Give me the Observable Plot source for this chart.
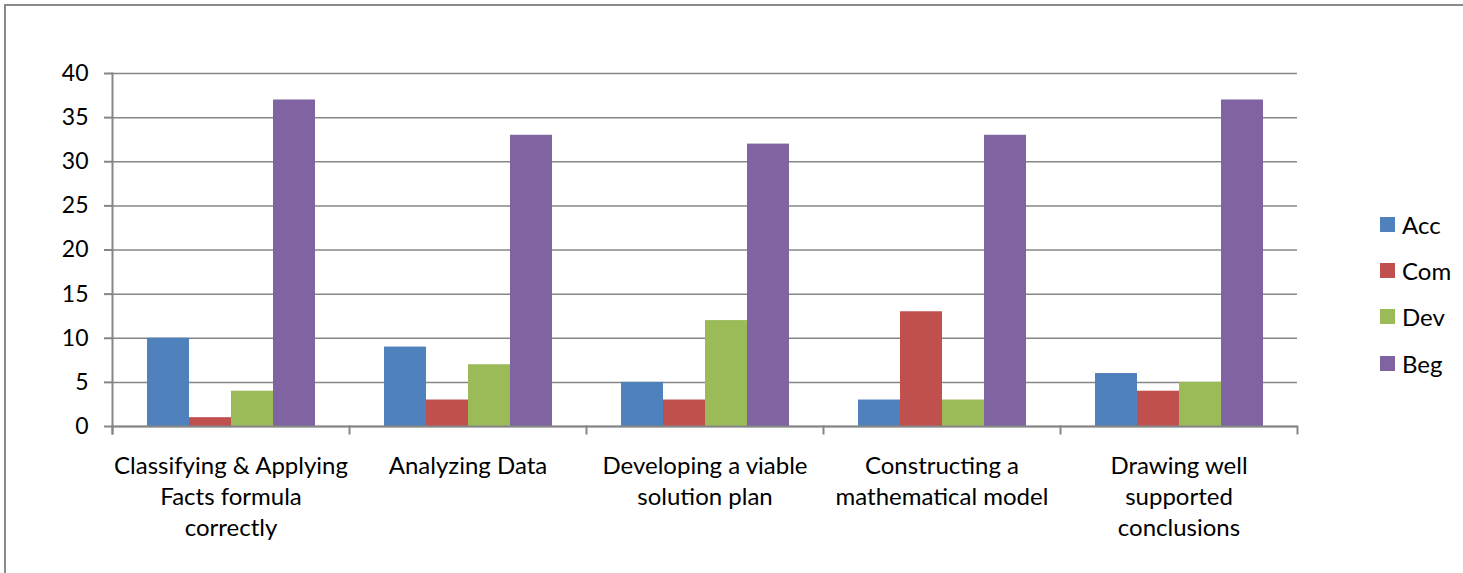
<!DOCTYPE html>
<html>
<head>
<meta charset="utf-8">
<script src="https://cdn.jsdelivr.net/npm/d3@7"></script>
<script src="https://cdn.jsdelivr.net/npm/@observablehq/plot@0.6"></script>
<style>
  html, body { margin: 0; padding: 0; background: #fff; }
  #wrap { position: relative; width: 1463px; height: 573px; overflow: hidden; font-family: Lato, sans-serif; }
  #border { position: absolute; left: 4px; top: 4px; width: 1500px; height: 600px; border-top: 2px solid #8a8a8a; border-left: 2px solid #8a8a8a; }
  #legend { position: absolute; left: 1380px; top: 201px; }
  .item { display: flex; align-items: center; height: 46.3px; font-size: 24px; color: #000; }
  .sw { width: 15px; height: 15px; margin-right: 7px; }
</style>
</head>
<body>
<div id="wrap"><div id="border"></div></div>
<script>
const categories = [
  "Classifying & Applying Facts formula correctly",
  "Analyzing Data",
  "Developing a viable solution plan",
  "Constructing a mathematical model",
  "Drawing well supported conclusions"
];
const tickLabels = [
  "Classifying & Applying\nFacts formula\ncorrectly",
  "Analyzing Data",
  "Developing a viable\nsolution plan",
  "Constructing a\nmathematical model",
  "Drawing well\nsupported\nconclusions"
];
const series = ["Acc", "Com", "Dev", "Beg"];
const acc = [10, 9, 5, 3, 6];
const com = [1, 3, 3, 13, 4];
const dev = [4, 7, 12, 3, 5];
const beg = [37, 33, 32, 33, 37];
const yTicks = [0, 5, 10, 15, 20, 25, 30, 35, 40];
const colors = ["#4F81BD", "#C0504D", "#9BBB59", "#8064A2"];

const seriesValues = [acc, com, dev, beg];
const data = [];
categories.forEach((c, i) => series.forEach((s, j) => data.push({category: c, series: s, value: seriesValues[j][i]})));

const W = 1463, H = 573, mT = 73, mB = 147, mL = 111, mR = 165;
const innerH = H - mT - mB;
const gray = "#868686";

const chart = Plot.plot({
  width: W, height: H,
  marginTop: mT, marginBottom: mB, marginLeft: mL, marginRight: mR,
  style: {fontFamily: "Lato, sans-serif", fontSize: "23px", color: "#000", background: "transparent"},
  fx: {domain: categories, paddingInner: 0, paddingOuter: 0, label: null},
  x: {domain: series, paddingInner: 0, paddingOuter: 0.76, axis: null},
  y: {domain: [0, 40], label: null},
  color: {domain: series, range: colors},
  marks: [
    Plot.gridY({ticks: yTicks, stroke: gray, strokeOpacity: 1, strokeWidth: 1.5}),
    Plot.barY(data, {fx: "category", x: "series", y: "value", fill: "series"}),
    Plot.ruleY([0], {stroke: gray, strokeWidth: 2}),
    Plot.frame({anchor: "left", facetAnchor: "left", insetBottom: -7, stroke: gray, strokeWidth: 2}),
    Plot.frame({anchor: "left", insetTop: innerH, insetBottom: -7, stroke: gray, strokeWidth: 2}),
    Plot.frame({anchor: "right", facetAnchor: "right", insetTop: innerH, insetBottom: -7, stroke: gray, strokeWidth: 2}),
    Plot.axisY({ticks: yTicks, tickSize: 8, text: null, stroke: gray, strokeWidth: 2, label: null}),
    Plot.axisY({ticks: yTicks, tickSize: 0, tickPadding: 24, fontSize: 23, fill: "#000", label: null}),
    Plot.axisFx({anchor: "bottom", tickSize: 0, tickPadding: 25, fontSize: 24, lineHeight: 1.3, fill: "#000", label: null,
      tickFormat: d => tickLabels[categories.indexOf(d)]})
  ]
});
const wrap = document.getElementById("wrap");
chart.style.position = "absolute";
chart.style.left = "0px";
chart.style.top = "0px";
wrap.appendChild(chart);

const legend = d3.select(wrap).append("div").attr("id", "legend");
series.forEach((s, i) => {
  const it = legend.append("div").attr("class", "item");
  it.append("div").attr("class", "sw").style("background", colors[i]);
  it.append("span").text(s);
});
</script>
</body>
</html>
